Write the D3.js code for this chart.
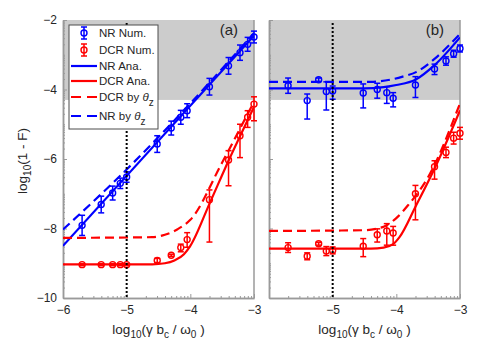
<!DOCTYPE html>
<html>
<head>
<meta charset="utf-8">
<script src="https://cdn.jsdelivr.net/npm/d3@7"></script>
<style>
  body { margin: 0; background: #fff; }
  svg { display: block; font-family: "Liberation Sans", Arial, sans-serif; }
</style>
</head>
<body>
<div id="chart"></div>
<script>
// sample positions, log10(gamma b_c / omega_0), same for both panels
var xVals = [-5.70, -5.40, -5.22, -5.10, -5.00, -4.52, -4.30, -4.15, -4.05, -3.70, -3.40, -3.22, -3.10, -3.00];

// panel (a) numerics: value, error down, error up
var nrNumA   = [-7.91, -7.31, -6.98, -6.70, -6.52, -5.57, -5.11, -4.80, -4.61, -3.92, -3.32, -2.94, -2.70, -2.49];
var nrLoA    = [0.29, 0.24, 0.20, 0.15, 0.15, 0.24, 0.20, 0.20, 0.20, 0.24, 0.24, 0.22, 0.20, 0.17];
var nrHiA    = [0.29, 0.24, 0.20, 0.15, 0.15, 0.24, 0.20, 0.20, 0.20, 0.24, 0.24, 0.22, 0.20, 0.17];
var dcrNumA  = [-9.04, -9.04, -9.04, -9.04, -9.04, -8.92, -8.77, -8.55, -8.32, -7.17, -6.03, -5.33, -4.80, -4.42];
var dcrLoA   = [0.03, 0.03, 0.03, 0.03, 0.03, 0.06, 0.03, 0.12, 0.22, 1.22, 0.74, 0.63, 0.29, 0.48];
var dcrHiA   = [0.03, 0.03, 0.03, 0.03, 0.03, 0.06, 0.03, 0.10, 0.20, 0.28, 0.27, 0.33, 0.19, 0.21];

// panel (b) numerics
var nrNumB   = [-3.89, -4.32, -3.72, -4.06, -4.04, -4.10, -4.00, -4.09, -4.25, -3.87, -3.41, -3.18, -2.97, -2.82];
var nrLoB    = [0.22, 0.53, 0.05, 0.53, 0.24, 0.43, 0.25, 0.31, 0.25, 0.36, 0.16, 0.12, 0.10, 0.10];
var nrHiB    = [0.22, 0.19, 0.05, 0.28, 0.14, 0.26, 0.18, 0.17, 0.16, 0.24, 0.14, 0.12, 0.10, 0.10];
var dcrNumB  = [-8.55, -8.80, -8.44, -8.65, -8.63, -8.51, -8.18, -8.07, -8.13, -7.00, -6.22, -5.81, -5.40, -5.26];
var dcrLoB   = [0.14, 0.10, 0.04, 0.13, 0.10, 0.30, 0.21, 0.41, 0.35, 0.75, 0.36, 0.15, 0.17, 0.17];
var dcrHiB   = [0.14, 0.10, 0.04, 0.13, 0.10, 0.22, 0.17, 0.21, 0.19, 0.24, 0.17, 0.15, 0.17, 0.17];

// analytic curves and theta_z estimates, [x, y]
var nrAnaA    = [[-6, -8.50], [-3, -2.45]];
var nrThetaA  = [[-6, -8.03], [-5, -6.30], [-4, -4.40], [-3, -2.38]];
var dcrAnaA   = [[-6, -9.03], [-4.6, -9.03], [-4.4, -9.00], [-4.25, -8.92], [-4.1, -8.74], [-4.0, -8.50], [-3.7, -7.29], [-3.4, -6.05], [-3.0, -4.50]];
var dcrThetaA = [[-6, -8.27], [-4.6, -8.25], [-4.4, -8.18], [-4.2, -8.02], [-4.0, -7.75], [-3.5, -6.10], [-3.0, -4.35]];

var nrAnaB    = [[-6, -3.97], [-4.5, -3.97], [-4.2, -3.93], [-4.0, -3.87], [-3.7, -3.72], [-3.4, -3.30], [-3.0, -2.50]];
var nrThetaB  = [[-6, -3.78], [-4.4, -3.78], [-4.1, -3.72], [-3.9, -3.63], [-3.69, -3.50], [-3.4, -3.12], [-3.0, -2.40]];
var dcrAnaB   = [[-6, -8.58], [-4.4, -8.58], [-4.2, -8.55], [-4.05, -8.45], [-3.95, -8.25], [-3.69, -7.34], [-3.39, -6.24], [-3.0, -4.60]];
var dcrThetaB = [[-6, -8.07], [-4.5, -8.05], [-4.3, -8.00], [-4.19, -7.94], [-4.0, -7.70], [-3.82, -7.34], [-3.5, -6.52], [-3.0, -4.40]];

// ticks
var xTicksA = [-6, -5, -4, -3];
var xTicksB = [-5, -4, -3];
var yTicks = [-10, -8, -6, -4, -2];
var minorOffsets = [0.301, 0.477, 0.602, 0.699, 0.778, 0.845, 0.903, 0.954];
var grayFrom = -4.3;   // shaded band from here up to -2
var markLine = -5;     // dotted vertical line

var blue = '#0000ff', red = '#ff0000', axisGray = '#9a9a9a';

var width = 485, height = 364;
var svg = d3.select('#chart').append('svg')
    .attr('width', width).attr('height', height);

var y = d3.scaleLinear().domain([-10, -2]).range([298, 20]);
var xA = d3.scaleLinear().domain([-6, -3]).range([63, 254]);
var xB = d3.scaleLinear().domain([-6, -3]).range([269, 460]);

var minorX = [], minorY = [];
[-6, -5, -4].forEach(function(d) { minorOffsets.forEach(function(o) { minorX.push(d + o) }) });
[-10, -9, -8, -7, -6, -5, -4, -3].forEach(function(d) { minorOffsets.forEach(function(o) { minorY.push(d + o) }) });
minorY = minorY.concat([-9, -7, -5, -3]);

function drawPanel(x, xTicks, showYLabels, curves, pts, tag, id) {
    var g = svg.append('g');

    // grey band
    g.append('rect')
        .attr('x', x(-6)).attr('y', y(-2))
        .attr('width', x(-3) - x(-6)).attr('height', y(grayFrom) - y(-2))
        .style('fill', '#cccccc');

    // axes (ticks inside, like matlab)
    var ax = g.append('g').attr('transform', 'translate(0,' + y(-10) + ')')
        .call(d3.axisBottom(x).tickValues(xTicks).tickSizeInner(-4).tickSizeOuter(0).tickPadding(7).tickFormat(d3.format('d')));
    g.append('g').attr('transform', 'translate(0,' + y(-10) + ')')
        .call(d3.axisBottom(x).tickValues(minorX).tickSizeInner(-2).tickSizeOuter(0).tickFormat(''));
    var ay = g.append('g').attr('transform', 'translate(' + x(-6) + ',0)')
        .call(d3.axisLeft(y).tickValues(yTicks).tickSizeInner(-4).tickSizeOuter(0).tickPadding(6)
            .tickFormat(showYLabels ? d3.format('d') : ''));
    g.append('g').attr('transform', 'translate(' + x(-6) + ',0)')
        .call(d3.axisLeft(y).tickValues(minorY).tickSizeInner(-2).tickSizeOuter(0).tickFormat(''));

    g.selectAll('.domain').style('stroke', axisGray).style('stroke-width', 1.5);
    g.selectAll('.tick line').style('stroke', axisGray);
    g.selectAll('.tick text').style('font-size', '12px').style('fill', '#262626');

    g.append('line')
        .attr('x1', x(-3)).attr('x2', x(-3)).attr('y1', y(-2)).attr('y2', y(-10))
        .style('stroke', axisGray).style('stroke-width', 1.5);

    // curves
    var clipId = 'clip' + id;
    svg.append('clipPath').attr('id', clipId).append('rect')
        .attr('x', x(-6)).attr('y', y(-2))
        .attr('width', x(-3) - x(-6)).attr('height', y(-10) - y(-2));

    var line = d3.line()
        .x(function(d) { return x(d[0]) })
        .y(function(d) { return y(d[1]) })
        .curve(d3.curveMonotoneX);

    var cg = g.append('g').attr('clip-path', 'url(#' + clipId + ')');
    curves.forEach(function(c) {
        cg.append('path')
            .attr('d', line(c.data))
            .style('fill', 'none')
            .style('stroke', c.color)
            .style('stroke-width', 2.2)
            .style('stroke-dasharray', c.dash ? '9,5' : null);
    });

    // numerics with error bars
    pts.forEach(function(s) {
        var rows = xVals.map(function(xv, i) { return { x: xv, y: s.val[i], lo: s.lo[i], hi: s.hi[i] } });
        var pg = g.append('g').selectAll('g').data(rows).enter().append('g');
        pg.append('line')
            .attr('x1', function(d) { return x(d.x) }).attr('x2', function(d) { return x(d.x) })
            .attr('y1', function(d) { return y(d.y - d.lo) }).attr('y2', function(d) { return y(d.y + d.hi) })
            .style('stroke', s.color).style('stroke-width', 1.5);
        pg.append('line')
            .attr('x1', function(d) { return x(d.x) - 3 }).attr('x2', function(d) { return x(d.x) + 3 })
            .attr('y1', function(d) { return y(d.y - d.lo) }).attr('y2', function(d) { return y(d.y - d.lo) })
            .style('stroke', s.color).style('stroke-width', 1.5);
        pg.append('line')
            .attr('x1', function(d) { return x(d.x) - 3 }).attr('x2', function(d) { return x(d.x) + 3 })
            .attr('y1', function(d) { return y(d.y + d.hi) }).attr('y2', function(d) { return y(d.y + d.hi) })
            .style('stroke', s.color).style('stroke-width', 1.5);
        pg.append('circle')
            .attr('cx', function(d) { return x(d.x) }).attr('cy', function(d) { return y(d.y) })
            .attr('r', 3)
            .style('fill', 'none').style('stroke', s.color).style('stroke-width', 1.4);
    });

    // dotted marker line
    g.append('line')
        .attr('x1', x(markLine)).attr('x2', x(markLine))
        .attr('y1', y(-2) + 3).attr('y2', y(-10))
        .style('stroke', '#000').style('stroke-width', 2).style('stroke-dasharray', '2,2');

    g.append('text')
        .attr('x', x(-3) - 16).attr('y', y(-2) + 15)
        .attr('text-anchor', 'end')
        .style('font-size', '15px').style('fill', '#262626')
        .text(tag);

    // x label
    var xl = g.append('text')
        .attr('x', (x(-6) + x(-3)) / 2).attr('y', 334)
        .attr('text-anchor', 'middle')
        .style('font-size', '13.5px').style('fill', '#262626');
    xl.append('tspan').text('log');
    xl.append('tspan').attr('dy', 4).style('font-size', '10px').text('10');
    xl.append('tspan').attr('dy', -4).text('(\u03b3 b');
    xl.append('tspan').attr('dy', 4).style('font-size', '10px').text('c');
    xl.append('tspan').attr('dy', -4).text(' / \u03c9');
    xl.append('tspan').attr('dy', 4).style('font-size', '10px').text('0');
    xl.append('tspan').attr('dy', -4).text(' )');

    return g;
}

drawPanel(xA, xTicksA, true, [
    { data: nrThetaA, color: blue, dash: true },
    { data: nrAnaA, color: blue },
    { data: dcrThetaA, color: red, dash: true },
    { data: dcrAnaA, color: red }
], [
    { val: nrNumA, lo: nrLoA, hi: nrHiA, color: blue },
    { val: dcrNumA, lo: dcrLoA, hi: dcrHiA, color: red }
], '(a)', 'a');

drawPanel(xB, xTicksB, false, [
    { data: nrThetaB, color: blue, dash: true },
    { data: nrAnaB, color: blue },
    { data: dcrThetaB, color: red, dash: true },
    { data: dcrAnaB, color: red }
], [
    { val: nrNumB, lo: nrLoB, hi: nrHiB, color: blue },
    { val: dcrNumB, lo: dcrLoB, hi: dcrHiB, color: red }
], '(b)', 'b');

// y label
var yl = svg.append('text')
    .attr('transform', 'translate(27,' + (y(-6) + 2) + ')rotate(-90)')
    .attr('text-anchor', 'middle')
    .style('font-size', '13.5px').style('fill', '#262626');
yl.append('tspan').text('log');
yl.append('tspan').attr('dy', 4).style('font-size', '10px').text('10');
yl.append('tspan').attr('dy', -4).text('(1 - F)');

// ------- legend --------
var legendItems = [
    { label: 'NR Num.', color: blue, type: 'err', ty: 37 },
    { label: 'DCR Num.', color: red, type: 'err', ty: 54 },
    { label: 'NR Ana.', color: blue, type: 'solid', ty: 70 },
    { label: 'DCR Ana.', color: red, type: 'solid', ty: 85 },
    { label: 'DCR by ', color: red, type: 'dash', ty: 101, theta: true },
    { label: 'NR by ', color: blue, type: 'dash', ty: 120, theta: true }
];

var lg = svg.append('g');
lg.append('rect')
    .attr('x', 69).attr('y', 25).attr('width', 89).attr('height', 104)
    .style('fill', '#fff').style('stroke', '#4d4d4d').style('stroke-width', 1);

legendItems.forEach(function(d) {
    var cy = d.ty - 4;
    if (d.type == 'err') {
        lg.append('line').attr('x1', 84).attr('x2', 84).attr('y1', cy - 6).attr('y2', cy + 6)
            .style('stroke', d.color).style('stroke-width', 1.5);
        [cy - 6, cy + 6].forEach(function(v) {
            lg.append('line').attr('x1', 81).attr('x2', 87).attr('y1', v).attr('y2', v)
                .style('stroke', d.color).style('stroke-width', 1.5);
        });
        lg.append('circle').attr('cx', 84).attr('cy', cy).attr('r', 3)
            .style('fill', 'none').style('stroke', d.color).style('stroke-width', 1.4);
    } else {
        lg.append('line').attr('x1', 71).attr('x2', 97).attr('y1', cy).attr('y2', cy)
            .style('stroke', d.color).style('stroke-width', 2.2)
            .style('stroke-dasharray', d.type == 'dash' ? '10,6' : null);
    }
    var t = lg.append('text').attr('x', 99).attr('y', d.ty)
        .style('font-size', '11.5px').style('fill', '#262626');
    t.append('tspan').text(d.label);
    if (d.theta) {
        t.append('tspan').style('font-style', 'italic').text('\u03b8');
        t.append('tspan').attr('dy', 5).style('font-size', '10px').text('z');
    }
});
</script>
</body>
</html>
